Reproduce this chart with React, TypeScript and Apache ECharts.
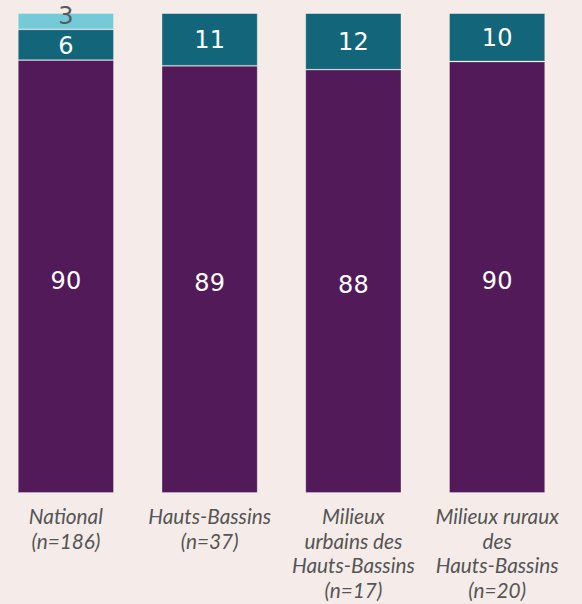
import React, { useEffect, useRef } from "react";
import * as echarts from "echarts";

const categories = [
  "National\n(n=186)",
  "Hauts-Bassins\n(n=37)",
  "Milieux\nurbains des\nHauts-Bassins\n(n=17)",
  "Milieux ruraux\ndes\nHauts-Bassins\n(n=20)",
];
const purpleValues = [90.2, 89.0, 88.2, 89.9];
const tealValues = [6.4, 11.0, 11.8, 10.1];
const cyanValues = [3.4, 0, 0, 0];

export default function App() {
  const ref = useRef<HTMLDivElement>(null);
  useEffect(() => {
    if (!ref.current) return;
    const chart = echarts.init(ref.current, null, { renderer: "svg" });
    const border = { borderColor: "rgba(255,255,255,0.35)", borderWidth: 0.8 };
    const labelBase = {
      show: true,
      position: "inside" as const,
      fontFamily: "DejaVu Sans",
      fontSize: 24,
      color: "#ffffff",
      formatter: (p: any) => (p.value > 0 ? String(Math.round(p.value)) : ""),
    };
    chart.setOption({
      animation: false,
      backgroundColor: "#F5ECE9",
      grid: { left: 0, right: 13, top: 13, bottom: 111, containLabel: false },
      xAxis: {
        type: "category",
        data: categories,
        axisLine: { show: false },
        axisTick: { show: false },
        axisLabel: {
          interval: 0,
          margin: 10,
          fontFamily: "Lato",
          fontStyle: "italic",
          fontSize: 20.8,
          lineHeight: 24.7,
          color: "#555555",
        },
      },
      yAxis: { type: "value", min: 0, max: 100, show: false, splitLine: { show: false } },
      series: [
        {
          type: "bar",
          stack: "s",
          barWidth: 96,
          data: purpleValues,
          itemStyle: { color: "#521A58", ...border },
          label: { ...labelBase, offset: [0, 4] },
        },
        {
          type: "bar",
          stack: "s",
          barWidth: 96,
          data: tealValues,
          itemStyle: { color: "#13667A", ...border },
          label: { ...labelBase, offset: [0, 1] },
        },
        {
          type: "bar",
          stack: "s",
          barWidth: 96,
          data: cyanValues,
          itemStyle: { color: "#74CAD7", ...border },
          label: { ...labelBase, color: "#595959", offset: [0, -5] },
        },
      ],
    });
    return () => chart.dispose();
  }, []);
  return (
    <div style={{ position: "fixed", left: 0, top: 0, width: 582, height: 604, overflow: "hidden", background: "#F5ECE9" }}>
      <div
        ref={ref}
        style={{ position: "absolute", left: -6, top: 0, width: 588, height: 604 }}
      />
    </div>
  );
}
